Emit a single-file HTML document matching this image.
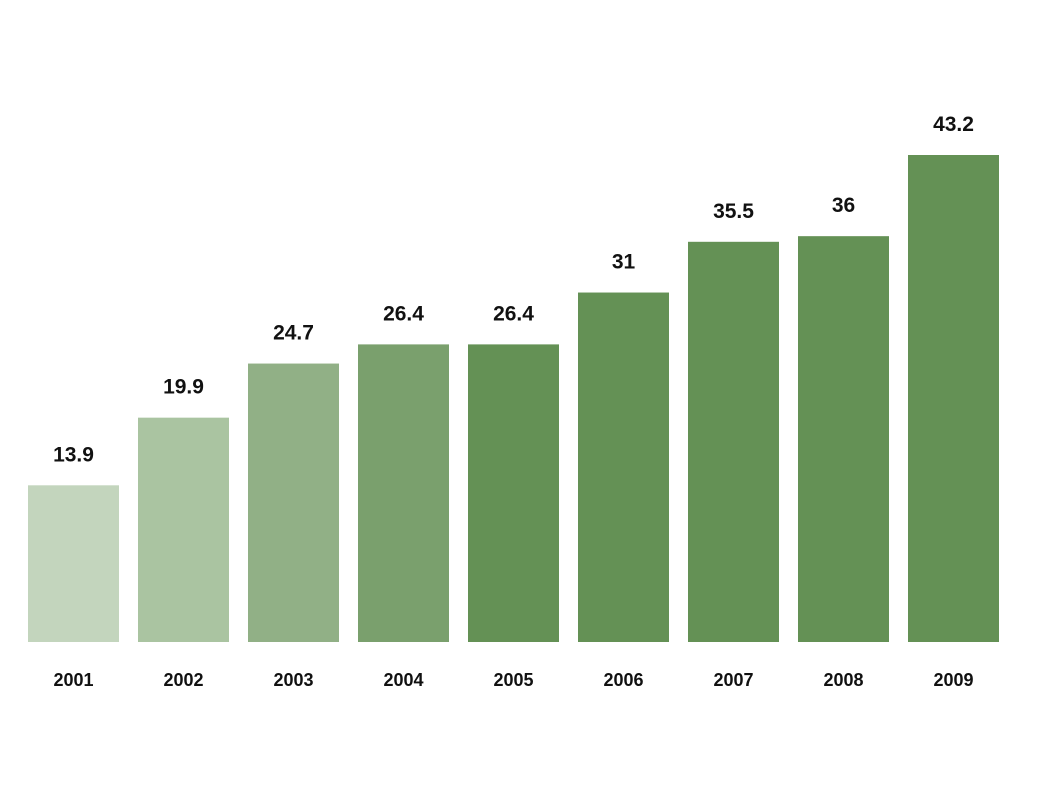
<!DOCTYPE html>
<html><head><meta charset="utf-8"><style>
html,body{margin:0;padding:0;background:#fff;}
svg{display:block;font-family:"Liberation Sans",sans-serif;}
</style></head><body>
<svg id="chart" width="1063" height="801" viewBox="0 0 1063 801"></svg>
<script>
const categories = ["2001","2002","2003","2004","2005","2006","2007","2008","2009"];
const values = [13.9,19.9,24.7,26.4,26.4,31,35.5,36,43.2];
const valueLabels = ["13.9","19.9","24.7","26.4","26.4","31","35.5","36","43.2"];
const colors = ["#c3d5bd","#aac4a1","#91b086","#7aa06d","#649155","#649155","#649155","#649155","#649155"];
const svg = document.getElementById('chart');
const NS = 'http://www.w3.org/2000/svg';
const x0 = 28, step = 110, bw = 91, baseY = 642, pxPerUnit = 487/43.2;
const xScale = i => x0 + i*step;
const yScale = v => baseY - v*pxPerUnit;
categories.forEach((c,i)=>{
  const v = values[i];
  const r = document.createElementNS(NS,'rect');
  
  
  r.setAttribute('x',xScale(i)); r.setAttribute('y',yScale(v));
  r.setAttribute('width',bw); r.setAttribute('height',baseY-yScale(v));
  r.setAttribute('fill',colors[i]);
  svg.appendChild(r);
  const t = document.createElementNS(NS,'text');
  
  
  t.setAttribute('x',xScale(i)+bw/2); t.setAttribute('y',yScale(v)-24);
  t.setAttribute('text-anchor','middle'); t.setAttribute('font-size','21');
  t.setAttribute('font-weight','bold'); t.setAttribute('fill','#111');
  t.textContent = valueLabels[i];
  svg.appendChild(t);
  const l = document.createElementNS(NS,'text');
  
  
  l.setAttribute('x',xScale(i)+bw/2); l.setAttribute('y',686);
  l.setAttribute('text-anchor','middle'); l.setAttribute('font-size','18');
  l.setAttribute('font-weight','bold'); l.setAttribute('fill','#111');
  l.textContent = c;
  svg.appendChild(l);
});
</script>
</body></html>
